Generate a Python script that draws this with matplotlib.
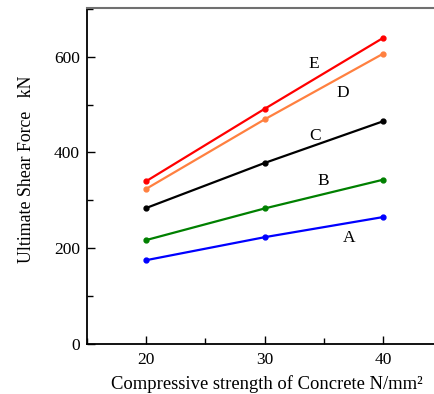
import matplotlib
matplotlib.use("Agg")
import matplotlib.pyplot as plt
from matplotlib.ticker import MultipleLocator

plt.rcParams['font.family'] = ['Liberation Serif', 'DejaVu Serif']

strength = [20, 30, 40]
series_names = ["A", "B", "C", "D", "E"]
A = [175, 223, 265]
B = [217, 283, 343]
C = [284, 378, 465]
D = [324, 469, 606]
E = [340, 491, 639]
colors = ["#0000ff", "#008000", "#000000", "#ff8040", "#ff0000"]
label_pos = {"A": (37.1, 221), "B": (35.0, 340), "C": (34.3, 435), "D": (36.6, 525), "E": (34.15, 585)}

fig = plt.figure(figsize=(4.35, 3.94), dpi=100)
ax = fig.add_axes([0.2, 0.127, 0.8, 0.853])
for name, vals, c in zip(series_names, [A, B, C, D, E], colors):
    ax.plot(strength, vals, color=c, lw=1.6, marker='o', ms=3.5)
    lx, ly = label_pos[name]
    ax.text(lx, ly, name, fontsize=12.5, ha='center', va='center')

ax.set_xlim(15, 44.4)
ax.set_ylim(0, 702)
ax.xaxis.set_major_locator(MultipleLocator(10))
ax.xaxis.set_minor_locator(MultipleLocator(5))
ax.yaxis.set_major_locator(MultipleLocator(200))
ax.yaxis.set_minor_locator(MultipleLocator(100))
ax.tick_params(which='major', direction='in', length=6, labelsize=12.5, width=1)
ax.tick_params(which='minor', direction='in', length=4, width=1)
ax.tick_params(axis='x', pad=6)
ax.tick_params(axis='y', pad=5)
ax.spines['right'].set_visible(False)
ax.spines['top'].set_color('#707070')
ax.spines['top'].set_linewidth(1.5)
for s in ['left', 'bottom']:
    ax.spines[s].set_linewidth(1.3)
ax.set_xlabel("Compressive strength of Concrete N/mm²", fontsize=13.4)
ax.xaxis.set_label_coords(0.517, -0.093)
ax.set_ylabel("Ultimate Shear Force   kN", fontsize=12.8)
ax.yaxis.set_label_coords(-0.15, 0.52)
fig.savefig("out.png", dpi=100)
